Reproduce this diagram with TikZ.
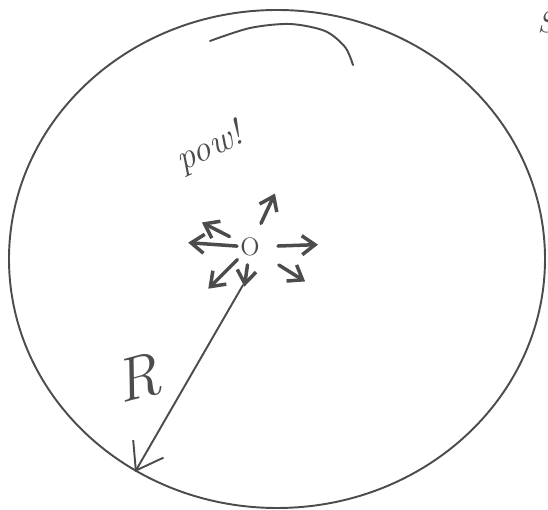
\documentclass[tikz,border=0pt]{standalone}
\usetikzlibrary{arrows.meta,calc}
\tikzset{
  ink/.style={line width=1.1pt,black!70,line cap=round},
  burst/.style={ink,line width=2pt,-{Straight Barb[length=2.6mm,width=3.8mm]}},
  radarr/.style={ink,-{Straight Barb[length=5mm,width=7mm]}},
  scrawl/.style={font=\itshape\LARGE,text=black!70,inner sep=0pt},
}
\begin{document}
\begin{tikzpicture}[x=0.02cm,y=0.02cm]
  \useasboundingbox (0,0) rectangle (548,510);
  % the sphere
  \draw[ink] (277,251) ellipse [x radius=268,y radius=249];
  \draw[ink] plot[smooth] coordinates {(210,469) (250,482) (290,486) (325,479) (345,463) (353,445)};
  % origin and the blast
  \node[scrawl,font=\Large] (o) at (250,263) {O};
  \foreach \a/\s/\e [count=\i] in {153/23/54,65/26/59,176/13/62,2/28/68,225/18/59,262/18/40,-32/34/65}{
    \coordinate (s\i) at ($(o)+(\a:\s)$);
    \coordinate (e\i) at ($(o)+(\a:\e)$);
    \draw[burst] (s\i) -- (e\i);
  }
  % radius
  \coordinate (rfoot) at (243,225);
  \coordinate (rtip) at (135,38);
  \draw[radarr] (rfoot) -- (rtip);
  % labels
  \node[scrawl,font=\itshape\huge,rotate=25] (pow) at (210,362) {pow!};
  \node[scrawl,font=\itshape\Huge,scale=1.4,rotate=15] (r) at (137,132) {R};
  \node[scrawl] (s) at (546,488) {S};
\end{tikzpicture}
\end{document}
